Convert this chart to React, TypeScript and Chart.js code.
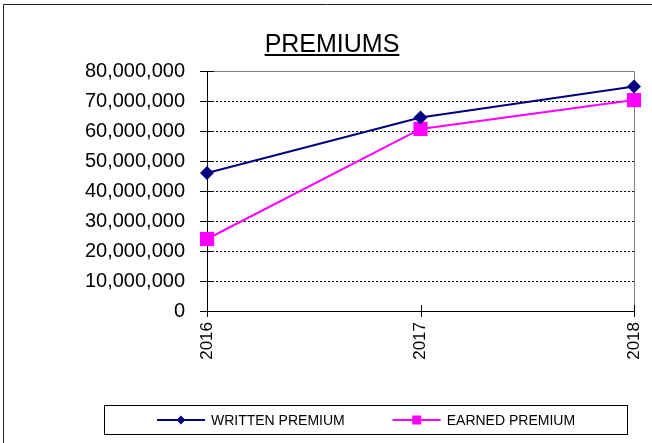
import React, { useEffect, useRef } from "react";
import { Chart, registerables } from "chart.js";

Chart.register(...registerables);

const years = ["2016", "2017", "2018"];
const writtenPremium = [46000000, 64500000, 74800000];
const earnedPremium = [24000000, 60700000, 70300000];
const yMin = 0;
const yMax = 80000000;
const yStep = 10000000;
const titleText = "PREMIUMS";
const seriesNames = ["WRITTEN PREMIUM", "EARNED PREMIUM"];
const seriesColors = ["#000080", "#FF00FF"];

const FONT = "'Liberation Sans', Arial, sans-serif";

const decorPlugin = {
  id: "decor",
  beforeDatasetsDraw(chart: any) {
    const { ctx, chartArea } = chart;
    const { left, right, top, bottom } = chartArea;
    ctx.save();
    ctx.strokeStyle = "#808080";
    ctx.lineWidth = 1;
    ctx.beginPath();
    ctx.moveTo(left, Math.round(top) + 0.5);
    ctx.lineTo(Math.round(right) + 0.5, Math.round(top) + 0.5);
    ctx.lineTo(Math.round(right) + 0.5, bottom);
    ctx.stroke();
    ctx.strokeStyle = "#000";
    const xs = chart.scales.x;
    const ys = chart.scales.y;
    ctx.beginPath();
    xs.ticks.forEach((_t: any, i: number) => {
      const px = Math.round(xs.getPixelForTick(i)) + 0.5;
      ctx.moveTo(px, bottom - 6);
      ctx.lineTo(px, bottom + 6);
    });
    ys.ticks.forEach((_t: any, i: number) => {
      const py = Math.round(ys.getPixelForTick(i)) + 0.5;
      ctx.moveTo(left - 7, py);
      ctx.lineTo(left + 7, py);
    });
    ctx.stroke();
    ctx.restore();
  },
  afterDraw(chart: any) {
    const { ctx, width, height } = chart;
    ctx.save();
    ctx.strokeStyle = "#222";
    ctx.lineWidth = 1;
    ctx.beginPath();
    ctx.moveTo(3.5, height);
    ctx.lineTo(3.5, 4.5);
    ctx.lineTo(width, 4.5);
    ctx.stroke();

    ctx.font = `25px ${FONT}`;
    ctx.fillStyle = "#000";
    ctx.textAlign = "center";
    ctx.textBaseline = "alphabetic";
    const tx = width / 2 + 6;
    const ty = 52;
    ctx.fillText(titleText, tx, ty);
    const tw = ctx.measureText(titleText).width;
    ctx.fillRect(tx - tw / 2, ty + 2, tw, 2);

    const bl = 104.5, bt = 405.5, br = 627.5, bb = 434.5;
    ctx.strokeStyle = "#000";
    ctx.strokeRect(bl, bt, br - bl, bb - bt);
    ctx.font = `14px ${FONT}`;
    const symW = 48, gap = 6, itemGap = 48;
    const widths = seriesNames.map((n) => ctx.measureText(n).width);
    const total = widths.reduce((a, w) => a + symW + gap + w, 0) + itemGap * (seriesNames.length - 1);
    let x = (bl + br) / 2 - total / 2;
    const cy = (bt + bb) / 2;
    seriesNames.forEach((name, i) => {
      ctx.strokeStyle = seriesColors[i];
      ctx.fillStyle = seriesColors[i];
      ctx.lineWidth = 2;
      ctx.beginPath();
      ctx.moveTo(x, cy);
      ctx.lineTo(x + symW, cy);
      ctx.stroke();
      const mx = x + symW / 2;
      ctx.beginPath();
      if (i === 0) {
        const s = 4.5;
        ctx.moveTo(mx, cy - s);
        ctx.lineTo(mx + s, cy);
        ctx.lineTo(mx, cy + s);
        ctx.lineTo(mx - s, cy);
        ctx.closePath();
      } else {
        ctx.rect(mx - 4.5, cy - 4.5, 9, 9);
      }
      ctx.fill();
      ctx.fillStyle = "#000";
      ctx.textAlign = "left";
      ctx.textBaseline = "middle";
      ctx.fillText(name, x + symW + gap, cy + 1);
      x += symW + gap + widths[i] + itemGap;
    });
    ctx.restore();
  },
};

export default function App() {
  const ref = useRef<HTMLCanvasElement | null>(null);
  useEffect(() => {
    if (!ref.current) return;
    const chart = new Chart(ref.current, {
      type: "line",
      data: {
        labels: years,
        datasets: [
          {
            label: seriesNames[0],
            data: writtenPremium,
            borderColor: seriesColors[0],
            backgroundColor: seriesColors[0],
            borderWidth: 2,
            pointStyle: "rectRot",
            pointRadius: 7,
            pointBorderWidth: 0,
            tension: 0,
            clip: false as any,
          },
          {
            label: seriesNames[1],
            data: earnedPremium,
            borderColor: seriesColors[1],
            backgroundColor: seriesColors[1],
            borderWidth: 2,
            pointStyle: "rect",
            pointRadius: 10,
            pointBorderWidth: 0,
            tension: 0,
            clip: false as any,
          },
        ],
      },
      options: {
        animation: false,
        responsive: false,
        maintainAspectRatio: false,
        layout: { padding: { left: 0, top: 71, right: 18, bottom: 38 } },
        plugins: {
          legend: { display: false },
          title: { display: false },
          tooltip: { enabled: false },
        },
        scales: {
          x: {
            type: "category",
            offset: false,
            grid: { display: false, drawTicks: false },
            border: { display: true, color: "#000", width: 1 },
            ticks: {
              color: "#000",
              font: { family: FONT, size: 17 },
              maxRotation: 90,
              minRotation: 90,
              padding: 11,
            },
            afterFit(scale: any) {
              scale.height = 94;
              scale.paddingLeft = 0;
              scale.paddingRight = 0;
            },
          },
          y: {
            min: yMin,
            max: yMax,
            grid: {
              drawTicks: false,
              color: (c: any) =>
                c.tick && (c.tick.value === yMin || c.tick.value === yMax) ? "rgba(0,0,0,0)" : "#000",
              lineWidth: 1,
            },
            border: { display: true, color: "#000", width: 1, dash: [2, 2] },
            ticks: {
              stepSize: yStep,
              color: "#000",
              font: { family: FONT, size: 20 },
              padding: 22,
              callback: (v: any) => Number(v).toLocaleString("en-US"),
            },
            afterFit(scale: any) {
              scale.width = 207;
              scale.paddingTop = 0;
              scale.paddingBottom = 0;
            },
          },
        },
      },
      plugins: [decorPlugin],
    });
    return () => chart.destroy();
  }, []);
  return (
    <div style={{ position: "absolute", left: 0, top: 0, width: 652, height: 443, background: "#fff" }}>
      <canvas ref={ref} width={652} height={443} style={{ width: 652, height: 443, display: "block" }} />
    </div>
  );
}
